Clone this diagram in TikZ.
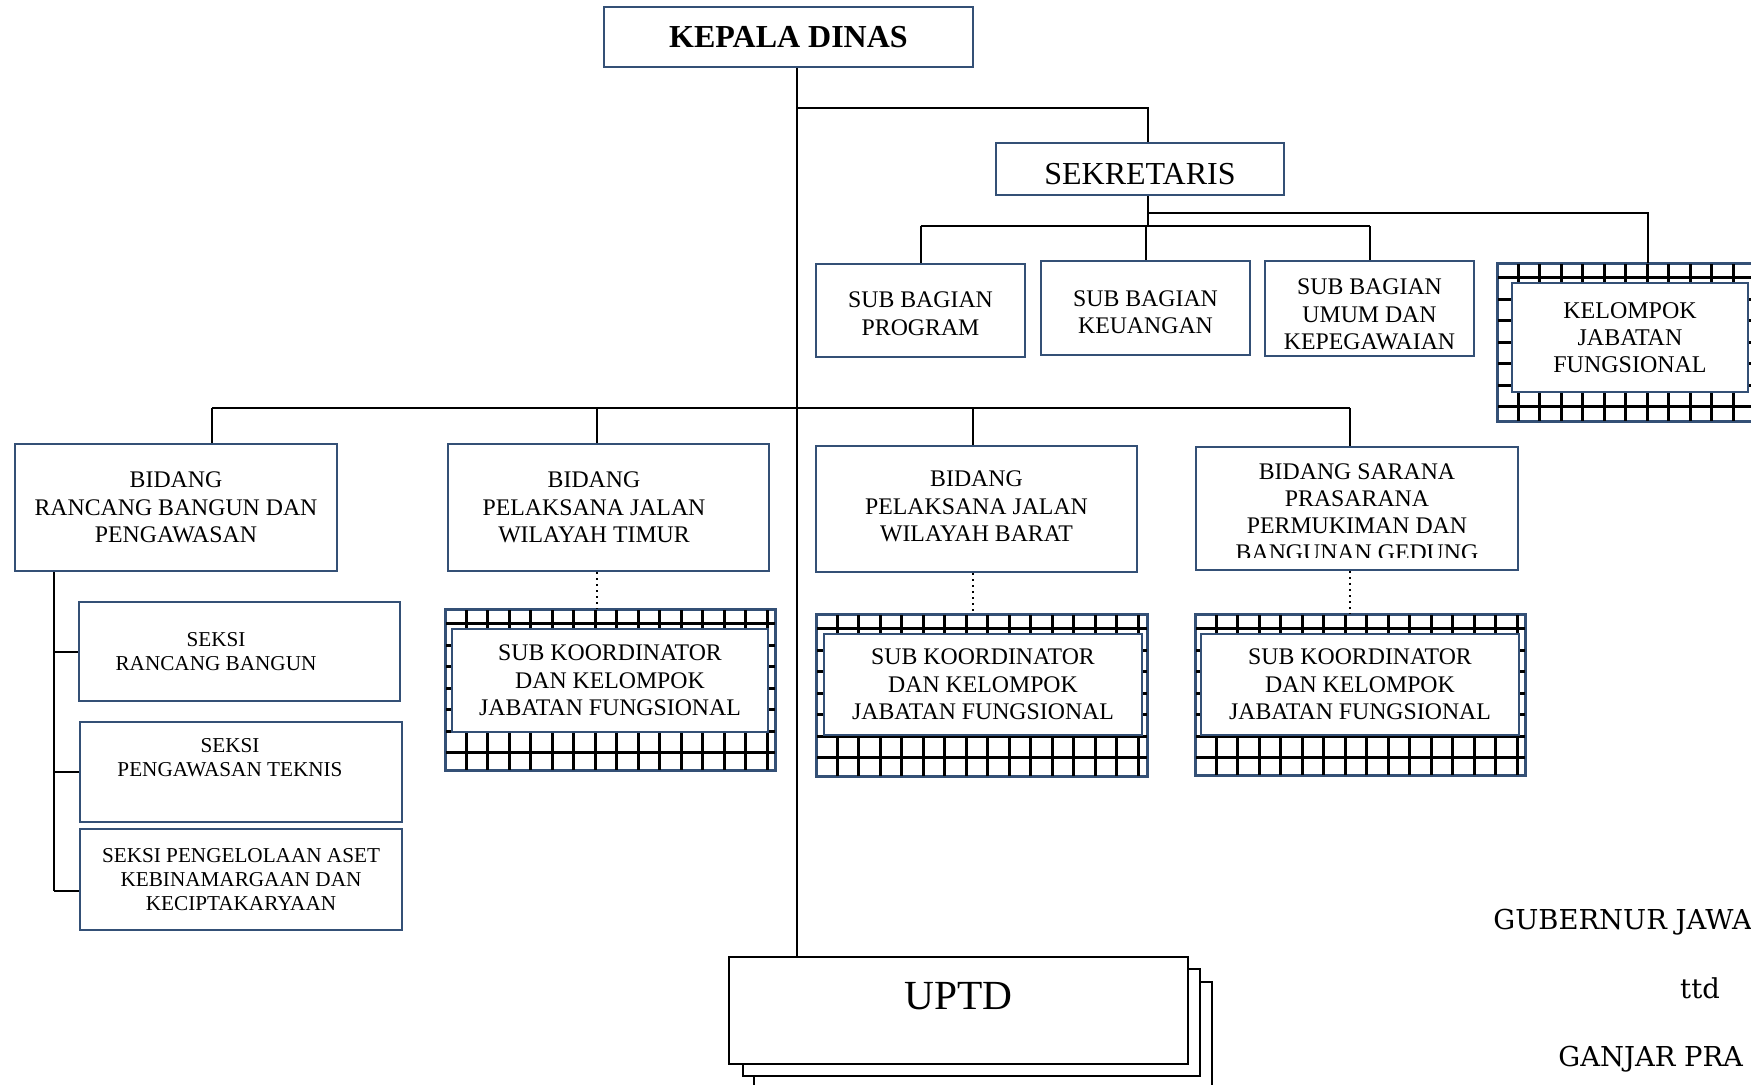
\documentclass[tikz,border=0pt]{standalone}
\usepackage{fontspec}
\setmainfont{Liberation Serif}
\newfontfamily\signfont{DejaVu Serif}
\usepackage{tikz}
\definecolor{boxblue}{RGB}{52,80,118}
\tikzstyle{box} = [draw=boxblue, line width=1.2pt, fill=white, align=center, inner sep=0pt]
\tikzstyle{uptdbox} = [draw=black, line width=1pt, fill=white, inner sep=0pt, minimum height=53.5pt]
\tikzstyle{link} = [line width=1pt]
\tikzstyle{dotlink} = [line width=1pt, dotted]
\tikzstyle{gridline} = [line width=1.4pt]
\tikzstyle{fbig} = [font=\fontsize{16}{19}\selectfont]
\tikzstyle{fbid} = [font=\fontsize{11.9}{13.8}\selectfont]
\tikzstyle{fsub} = [font=\fontsize{11.9}{13.8}\selectfont, align=center]
\tikzstyle{fkoor} = [font=\fontsize{11.9}{13.8}\selectfont]
\tikzstyle{fseksi} = [font=\fontsize{10.6}{12}\selectfont]
\tikzstyle{fsign} = [font=\signfont\fontsize{13.7}{16}\selectfont, inner sep=0pt]

\newcommand{\gridfill}[1]{%
  \begin{scope}
    \clip (#1.north west) rectangle (#1.south east);
    \foreach \i in {1,...,16}
      \draw[gridline] ([xshift=\i*10.75pt]#1.north west) -- ([xshift=\i*10.75pt]#1.south west);
    \foreach \j in {0,...,8}
      \draw[gridline] ([yshift=-7.5pt-\j*10.75pt]#1.north west) -- ([yshift=-7.5pt-\j*10.75pt]#1.north east);
  \end{scope}
  \draw[draw=boxblue, line width=1.2pt] (#1.north west) rectangle (#1.south east);}

\begin{document}
\begin{tikzpicture}[x=0.5pt, y=-0.5pt]
\path[use as bounding box, fill=white] (0,0) rectangle (1751,1085);

% pimpinan dan sekretariat
\node[box, fbig, minimum width=184.5pt, minimum height=30pt] (kd) at (788.5,37) {\textbf{KEPALA DINAS}};
\node[box, fbig, text height=16pt, text depth=0pt, minimum width=144pt, minimum height=26pt] (sek) at (1140,169) {SEKRETARIS};
\node[box, minimum width=104.5pt, minimum height=46.5pt, label={[fsub, yshift=-1.7pt]center:{SUB BAGIAN\\PROGRAM}}] (sbp) at (920.5,310.5) {};
\node[box, minimum width=104.5pt, minimum height=47pt, label={[fsub, yshift=-2.2pt]center:{SUB BAGIAN\\KEUANGAN}}] (sbk) at (1145.5,308) {};
\node[box, minimum width=104.5pt, minimum height=47.5pt, label={[fsub, yshift=-3pt]center:{SUB BAGIAN\\UMUM DAN\\KEPEGAWAIAN}}] (sbu) at (1369.5,308.5) {};
\node[box, minimum width=136pt, minimum height=78.5pt] (kjf) at (1634,342.5) {};
\gridfill{kjf}
\node[box, font=\fontsize{12}{13.6}\selectfont, minimum width=118pt, minimum height=54.5pt] (kjfin) at (1630,337.5) {KELOMPOK\\JABATAN\\FUNGSIONAL};

% bidang
\node[box, fbid, minimum width=161pt, minimum height=63.5pt] (br) at (176,507.5) {BIDANG\\RANCANG BANGUN DAN\\PENGAWASAN};
\node[box, minimum width=160.5pt, minimum height=63.5pt, label={[fbid, align=center, xshift=-7.25pt]center:{BIDANG\\PELAKSANA JALAN\\WILAYAH TIMUR}}] (bt) at (608.5,507.5) {};
\node[box, minimum width=160.5pt, minimum height=63pt, label={[fbid, align=center, yshift=1.2pt]center:{BIDANG\\PELAKSANA JALAN\\WILAYAH BARAT}}] (bb) at (976.5,509) {};
\node[box, minimum width=161pt, minimum height=61.5pt] (bs) at (1357,508.5) {};
\begin{scope}
  \clip (bs.north west) rectangle ([yshift=7pt]bs.south east);
  \node[align=center, inner sep=0pt, font=\fontsize{11.9}{13.5}\selectfont, yshift=-1.75pt] (bstext) at (bs) {BIDANG SARANA\\PRASARANA\\PERMUKIMAN DAN\\BANGUNAN GEDUNG};
\end{scope}

% sub koordinator
\node[box, minimum width=164.5pt, minimum height=80pt] (skt) at (610.5,690) {};
\gridfill{skt}
\node[box, fkoor, minimum width=158pt, minimum height=51.5pt] (sktin) at (610,680.5) {SUB KOORDINATOR\\DAN KELOMPOK\\JABATAN FUNGSIONAL};
\node[box, minimum width=165pt, minimum height=80.5pt] (skb) at (982,695.5) {};
\gridfill{skb}
\node[box, fkoor, minimum width=159pt, minimum height=50.5pt] (skbin) at (983,684.5) {SUB KOORDINATOR\\DAN KELOMPOK\\JABATAN FUNGSIONAL};
\node[box, minimum width=164.5pt, minimum height=80pt] (sks) at (1360.5,695) {};
\gridfill{sks}
\node[box, fkoor, minimum width=159pt, minimum height=50.5pt] (sksin) at (1360,684.5) {SUB KOORDINATOR\\DAN KELOMPOK\\JABATAN FUNGSIONAL};

% seksi
\node[box, minimum width=160.5pt, minimum height=49.5pt, label={[fseksi, align=center, xshift=-11.75pt]center:{SEKSI\\RANCANG BANGUN}}] (srb) at (239.5,651.5) {};
\node[box, minimum width=161pt, minimum height=50pt, label={[fseksi, align=center, xshift=-5.5pt, yshift=7pt]center:{SEKSI\\PENGAWASAN TEKNIS}}] (spt) at (241,772) {};
\node[box, fseksi, minimum width=161pt, minimum height=50.5pt] (spa) at (241,879.5) {SEKSI PENGELOLAAN ASET\\KEBINAMARGAAN DAN\\KECIPTAKARYAAN};

% uptd
\node[uptdbox, minimum width=229pt] (uptd3) at (983,1035.5) {};
\node[uptdbox, minimum width=228.5pt] (uptd2) at (971.5,1022.5) {};
\node[uptdbox, minimum width=229.5pt, label={[font=\fontsize{20.7}{24}\selectfont, yshift=7.25pt]center:UPTD}] (uptd) at (958.5,1010.5) {};

% garis
\coordinate (trunk) at (797,0);
\coordinate (sekdrop) at (1148,0);
\coordinate (spine) at (54,0);
\draw[link] (kd.south -| trunk) -- (uptd.north -| trunk);
\draw[link] (trunk |- 0,108) -| (sek.north -| sekdrop);
\draw[link] (sek.south -| sekdrop) -- (sekdrop |- 0,226);
\draw[link] (sbp.north |- 0,226) -- (sbu.north |- 0,226);
\foreach \n in {sbp,sbk,sbu}
  \draw[link] (\n.north) -- (\n.north |- 0,226);
\draw[link] (sekdrop |- 0,213) -| (kjf.north -| 1648,0);
\draw[link] (212,408) -- (1350,408);
\foreach \n/\x in {br/212, bt/597, bb/973, bs/1350}
  \draw[link] (\n.north -| \x,0) -- (\x,408);
\foreach \a/\b/\x in {bt/skt/597, bb/skb/973, bs/sks/1350}
  \draw[dotlink] (\a.south -| \x,0) -- (\b.north -| \x,0);
\draw[link] (br.south -| spine) -- (spine |- 0,891);
\draw[link] (spine |- srb.west) -- (srb.west);
\draw[link] (spine |- spt.west) -- (spt.west);
\draw[link] (spine |- 0,891) -- (spa.west |- 0,891);

% tanda tangan
\node[fsign, anchor=base west] (gub) at (1493,929) {GUBERNUR JAWA};
\node[fsign, anchor=base] (ttd) at (1700,998) {ttd};
\node[fsign, anchor=base west] (nama) at (1558,1066) {GANJAR PRA};
\end{tikzpicture}
\end{document}
